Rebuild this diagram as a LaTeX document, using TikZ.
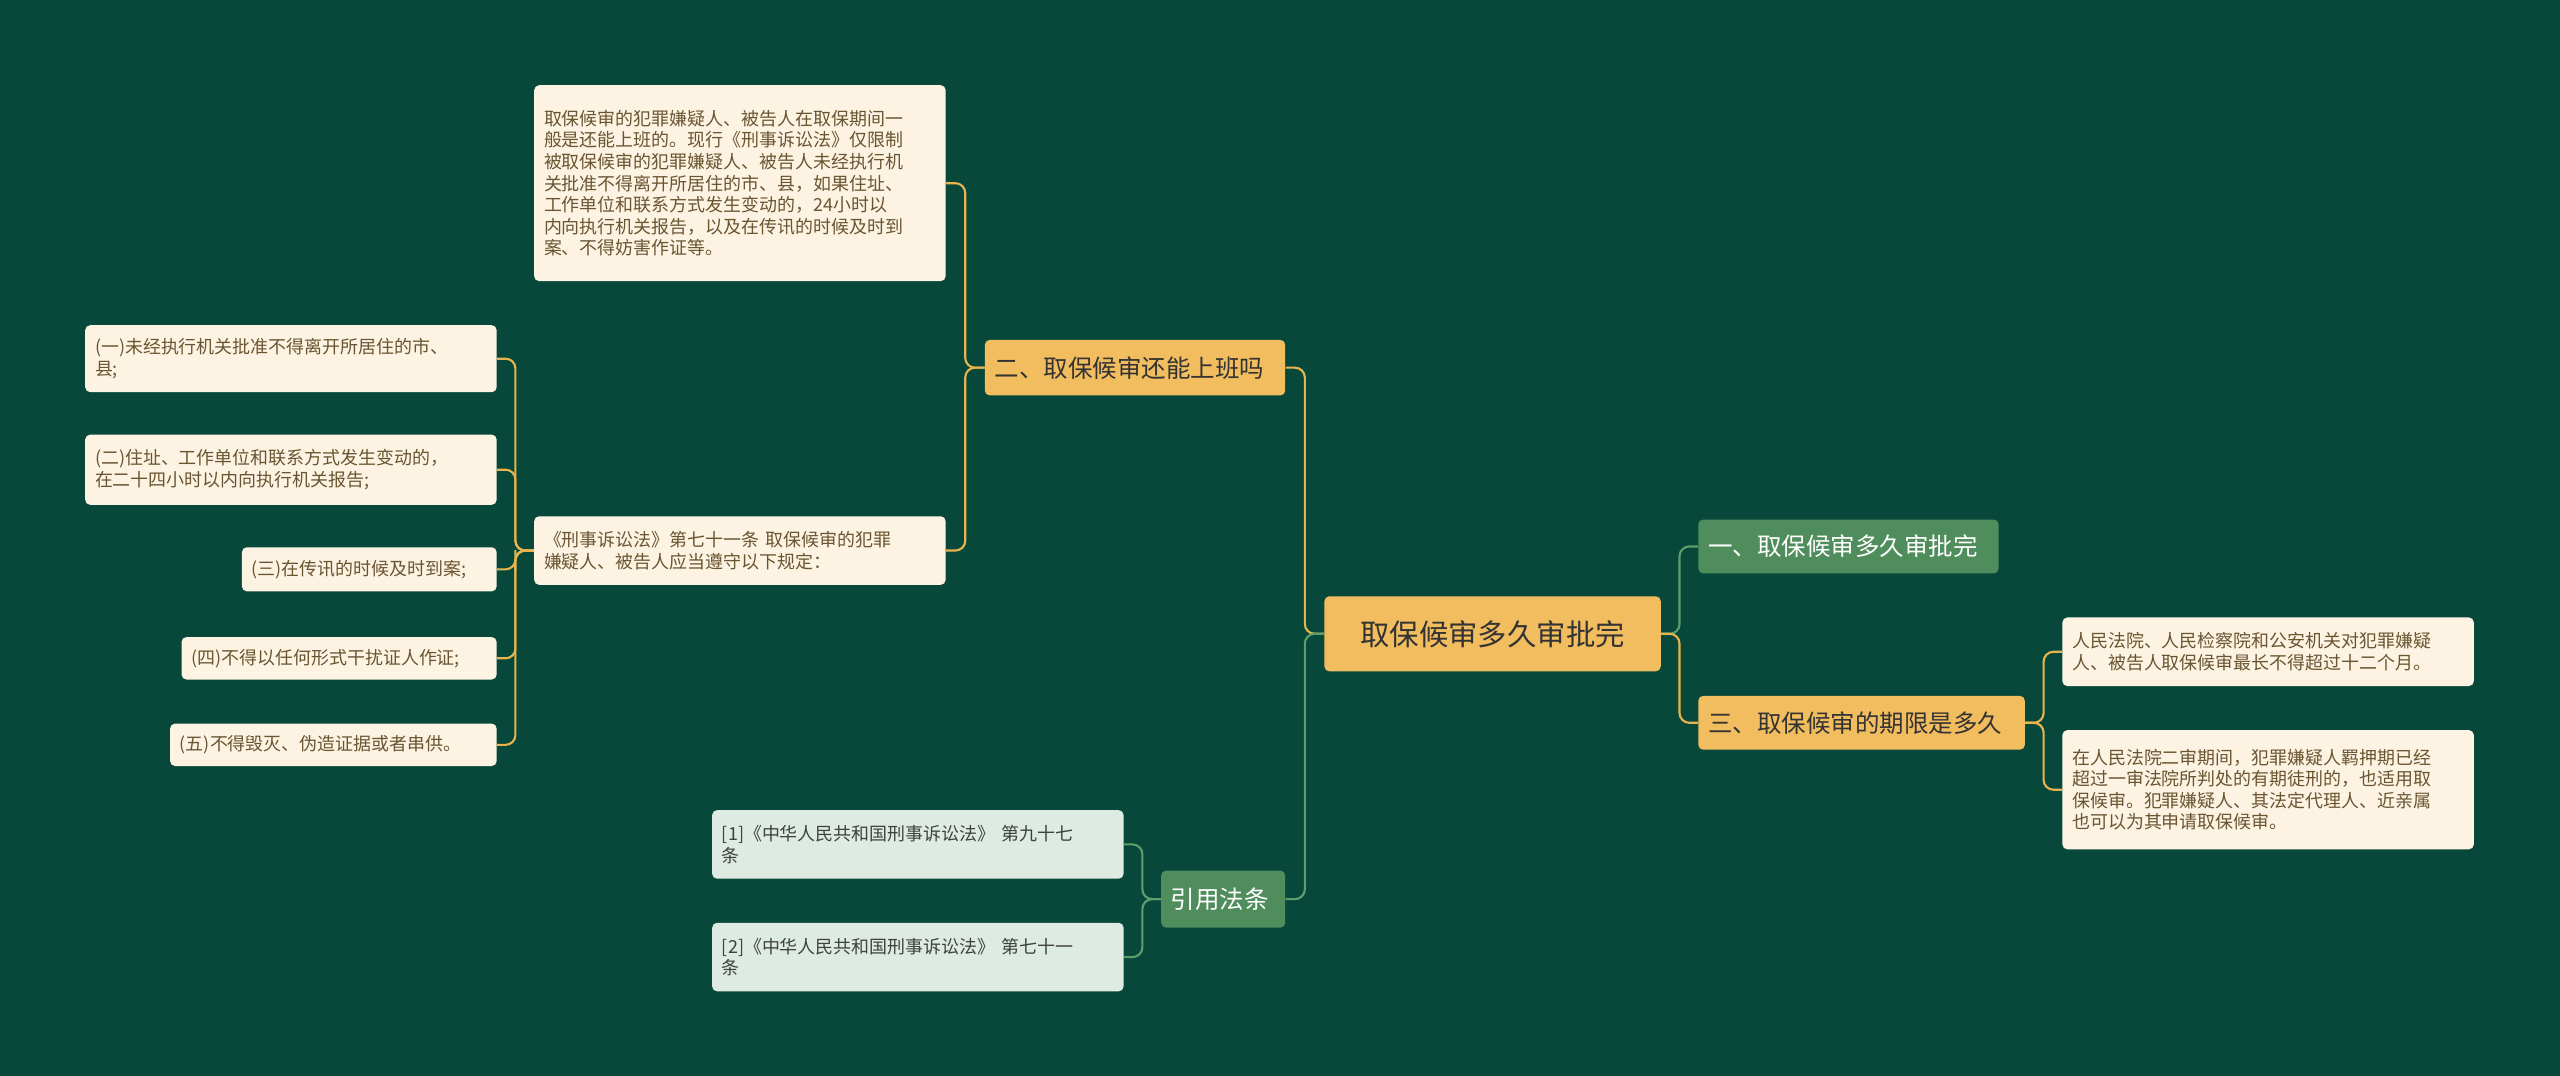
\documentclass[tikz,border=0pt]{standalone}
\usepackage{fontspec}
\setmainfont{Noto Sans CJK SC}
\usetikzlibrary{calc}
\definecolor{bg}{HTML}{07483A}
\definecolor{org}{HTML}{F2BD5E}
\definecolor{grn}{HTML}{4F8D5C}
\definecolor{cream}{HTML}{FDF3E2}
\definecolor{lgrn}{HTML}{DDEBE2}
\definecolor{ltxt}{HTML}{6A5532}
\definecolor{lorg}{HTML}{E8B450}
\definecolor{lgr}{HTML}{5E9E6C}
\tikzset{
 x=1pt,y=-1pt,
 box/.style={rounded corners=3pt,inner sep=0pt,align=left,anchor=north west},
 leaf/.style={box,fill=cream,text=ltxt,font=\fontsize{11}{13.2}\selectfont},
 gleaf/.style={box,fill=lgrn,text=black!75,font=\fontsize{11}{13.2}\selectfont},
 ob/.style={box,fill=org,text=black!80,font=\fontsize{15}{18}\selectfont},
 gb/.style={box,fill=grn,text=white,font=\fontsize{15}{18}\selectfont},
 lo/.style={draw=lorg,line width=1.3pt,rounded corners=6pt},
 lg/.style={draw=lgr,line width=1.3pt,rounded corners=6pt},
}
\newcommand{\bx}[7]{\node[#1,minimum width=#4-#2,minimum height=#5-#3,text width=#4-#2-12] (#6) at (#2,#3) {#7};}
\newcommand{\conL}[3]{\draw[#1] (#2.west) -| ($(#2.west)!0.5!(#3.east)$) |- (#3.east);}
\newcommand{\conR}[3]{\draw[#1] (#2.east) -| ($(#2.east)!0.5!(#3.west)$) |- (#3.west);}
\begin{document}
\begin{tikzpicture}
\fill[bg] (0,0) rectangle (1568,659);
\node[box,fill=org,text=black!80,font=\fontsize{18}{22}\selectfont,minimum width=206,minimum height=46,align=center] (root) at (811,365) {取保候审多久审批完};
\bx{gb}{1040}{318}{1224}{351}{r1}{一、取保候审多久审批完}
\bx{ob}{1040}{426}{1240}{459}{r3}{三、取保候审的期限是多久}
\bx{leaf}{1263}{378}{1515}{420}{r3a}{人民法院、人民检察院和公安机关对犯罪嫌疑\\人、被告人取保候审最长不得超过十二个月。}
\bx{leaf}{1263}{447}{1515}{520}{r3b}{在人民法院二审期间，犯罪嫌疑人羁押期已经\\超过一审法院所判处的有期徒刑的，也适用取\\保候审。犯罪嫌疑人、其法定代理人、近亲属\\也可以为其申请取保候审。}
\bx{ob}{603}{208}{787}{242}{l2}{二、取保候审还能上班吗}
\bx{gb}{711}{533}{787}{568}{lc}{引用法条}
\bx{leaf}{327}{52}{579}{172}{t1}{取保候审的犯罪嫌疑人、被告人在取保期间一\\般是还能上班的。现行《刑事诉讼法》仅限制\\被取保候审的犯罪嫌疑人、被告人未经执行机\\关批准不得离开所居住的市、县，如果住址、\\工作单位和联系方式发生变动的，24小时以\\内向执行机关报告，以及在传讯的时候及时到\\案、不得妨害作证等。}
\bx{leaf}{327}{316}{579}{358}{t2}{《刑事诉讼法》第七十一条 取保候审的犯罪\\嫌疑人、被告人应当遵守以下规定：}
\bx{leaf}{52}{199}{304}{240}{a1}{(一)未经执行机关批准不得离开所居住的市、\\县;}
\bx{leaf}{52}{266}{304}{309}{a2}{(二)住址、工作单位和联系方式发生变动的，\\在二十四小时以内向执行机关报告;}
\bx{leaf}{148}{335}{304}{362}{a3}{(三)在传讯的时候及时到案;}
\bx{leaf}{111}{390}{304}{416}{a4}{(四)不得以任何形式干扰证人作证;}
\bx{leaf}{104}{443}{304}{469}{a5}{(五)不得毁灭、伪造证据或者串供。}
\bx{gleaf}{436}{496}{688}{538}{c1}{[1]《中华人民共和国刑事诉讼法》 第九十七\\条}
\bx{gleaf}{436}{565}{688}{607}{c2}{[2]《中华人民共和国刑事诉讼法》 第七十一\\条}
\conR{lg}{root}{r1}
\conR{lo}{root}{r3}
\conR{lo}{r3}{r3a}
\conR{lo}{r3}{r3b}
\conL{lo}{root}{l2}
\conL{lg}{root}{lc}
\conL{lo}{l2}{t1}
\conL{lo}{l2}{t2}
\foreach \a in {a1,a2,a3,a4,a5}{\conL{lo}{t2}{\a}}
\conL{lg}{lc}{c1}
\conL{lg}{lc}{c2}
\end{tikzpicture}
\end{document}
